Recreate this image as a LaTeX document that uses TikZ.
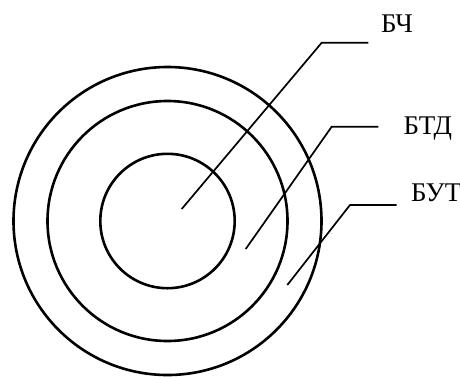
\documentclass[tikz,border=0pt]{standalone}
\usepackage{fontspec}
\setmainfont{Liberation Serif}
\usetikzlibrary{positioning}

\begin{document}
\begin{tikzpicture}[x=0.5pt,y=-0.5pt,font=\fontsize{13.5}{16}\selectfont,
  ring/.style={draw,line width=1.3pt},
  lead/.style={draw,line width=0.85pt},
  lbl/.style={anchor=base west,inner sep=0pt}]
\useasboundingbox (0,0) rectangle (460,376);
% rings
\coordinate (c) at (167.5,221);
\draw[ring] (c) circle[radius=154];
\draw[ring] (c) circle[radius=120];
\draw[ring] (c) circle[radius=67.2];
% labels
\node[lbl] (bch) at (380.7,32.3) {БЧ};
\node[lbl] (btd) at (403.3,134) {БТД};
\node[lbl] (but) at (410.7,201) {БУТ};
% leader points
\coordinate (bch0) at (181.7,209);   \coordinate (bch1) at (321.7,42.7);  \coordinate (bch2) at (368.3,42.7);
\coordinate (btd0) at (245.7,249);   \coordinate (btd1) at (331.7,126.7); \coordinate (btd2) at (378.3,126.7);
\coordinate (but0) at (287.3,285);   \coordinate (but1) at (350,205);     \coordinate (but2) at (396.7,205);
\draw[lead] (bch0) -- (bch1) -- (bch2);
\draw[lead] (btd0) -- (btd1) -- (btd2);
\draw[lead] (but0) -- (but1) -- (but2);
\end{tikzpicture}
\end{document}
